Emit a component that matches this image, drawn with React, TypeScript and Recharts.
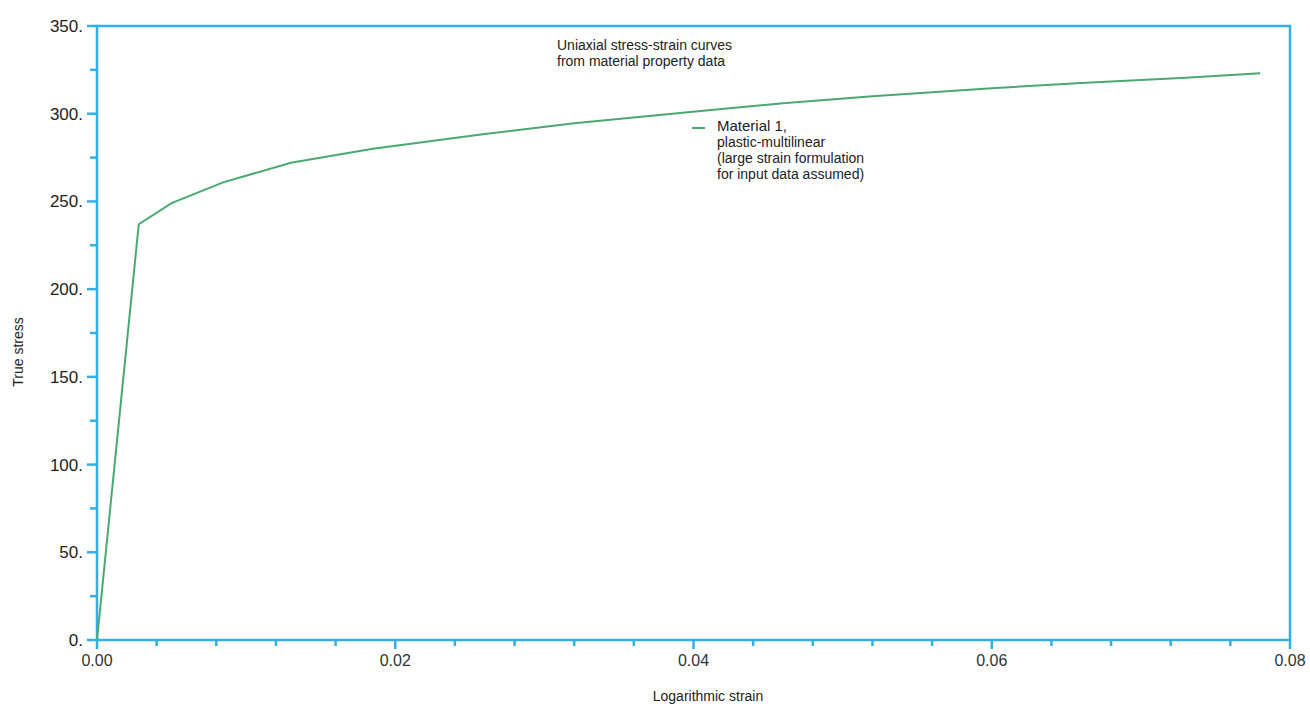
import { LineChart, Line, XAxis, YAxis, ReferenceArea } from "recharts";

const strain = [0, 0.0028, 0.005, 0.0085, 0.013, 0.0185, 0.026, 0.032, 0.041, 0.046, 0.052, 0.06, 0.066, 0.073, 0.078];
const stress = [0, 237, 249, 261, 272, 280, 288.5, 294.5, 302, 306, 310, 314.5, 317.5, 320.5, 323];

const xTicks = Array.from({ length: 21 }, (_, i) => +(i * 0.004).toFixed(3));
const yTicks = Array.from({ length: 15 }, (_, i) => i * 25);

const titleLines = ["Uniaxial stress-strain curves", "from material property data"];
const legendLines = ["Material 1,", "plastic-multilinear", "(large strain formulation", "for input data assumed)"];

const data = strain.map((s, i) => ({ strain: s, stress: stress[i] }));

const BLUE = "#35aee6";
const GREEN = "#4aa872";
const FONT = "'Liberation Sans', Arial, sans-serif";

function YTick({ x, y, payload }: any) {
  const major = payload.value % 50 === 0;
  return (
    <g>
      <line x1={x - (major ? 10 : 7)} x2={x} y1={y} y2={y} stroke={BLUE} strokeWidth={2.5} />
      {major && (
        <text x={x - 14} y={y} dy={6} textAnchor="end" fontSize={17} fontFamily={FONT} fill="#222">
          {payload.value + "."}
        </text>
      )}
    </g>
  );
}

function XTick({ x, y, payload }: any) {
  const major = Math.round(payload.value / 0.004) % 5 === 0;
  return (
    <g>
      <line x1={x} x2={x} y1={y} y2={y + (major ? 9 : 6)} stroke={BLUE} strokeWidth={2.5} />
      {major && (
        <text x={x} y={y + 26} textAnchor="middle" fontSize={16} fontFamily={FONT} fill="#333">
          {payload.value.toFixed(2)}
        </text>
      )}
    </g>
  );
}

export default function App() {
  return (
    <div style={{ position: "absolute", left: 0, top: 0, width: 1310, height: 709, background: "#fff", fontFamily: FONT }}>
      <LineChart width={1310} height={709} data={data} margin={{ top: 26, right: 20, bottom: 19, left: 20 }}>
        <XAxis
          dataKey="strain"
          type="number"
          domain={[0, 0.08]}
          ticks={xTicks}
          interval={0}
          height={50}
          tickSize={0}
          tickMargin={0}
          tickLine={false}
          axisLine={false}
          tick={<XTick />}
        />
        <YAxis
          type="number"
          domain={[0, 350]}
          ticks={yTicks}
          interval={0}
          width={77}
          tickSize={0}
          tickMargin={0}
          tickLine={false}
          axisLine={false}
          tick={<YTick />}
        />
        <ReferenceArea x1={0} x2={0.08} y1={0} y2={350} fill="none" stroke={BLUE} strokeWidth={2.5} />
        <Line
          dataKey="stress"
          type="linear"
          stroke={GREEN}
          strokeWidth={2}
          dot={false}
          isAnimationActive={false}
        />
      </LineChart>

      <div style={{ position: "absolute", left: 557, top: 37, fontSize: 14, lineHeight: "16px", color: "#222" }}>
        {titleLines.map((t) => (
          <div key={t}>{t}</div>
        ))}
      </div>

      <div style={{ position: "absolute", left: 692, top: 127, width: 13, height: 2, background: GREEN }} />
      <div style={{ position: "absolute", left: 717, top: 118, fontSize: 14, lineHeight: "16px", color: "#222" }}>
        {legendLines.map((t, i) => (
          <div key={t} style={{ fontSize: i === 0 ? 15 : 14 }}>
            {t}
          </div>
        ))}
      </div>

      <div style={{ position: "absolute", left: 0, width: 1416, top: 688, textAlign: "center", fontSize: 14, color: "#222" }}>
        Logarithmic strain
      </div>
      <div
        style={{
          position: "absolute",
          left: 18,
          top: 352,
          transform: "translate(-50%, -50%) rotate(-90deg)",
          fontSize: 14,
          color: "#222",
          whiteSpace: "nowrap",
        }}
      >
        True stress
      </div>
    </div>
  );
}
